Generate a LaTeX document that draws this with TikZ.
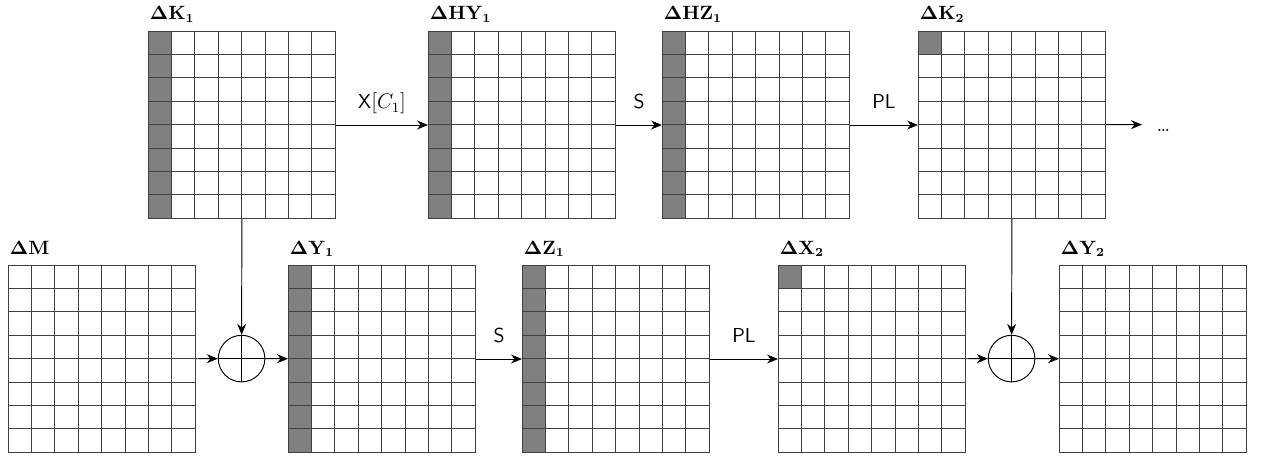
\documentclass[tikz,border=0pt]{standalone}
\usetikzlibrary{arrows.meta,calc}
\tikzset{
  gridbox/.style={draw=black!75, line width=0.5pt, minimum width=3.744cm, minimum height=3.744cm, inner sep=0pt, anchor=north west},
  gridline/.style={draw=black!75, line width=0.5pt},
  shadecell/.style={fill=black!50},
  gridlabel/.style={anchor=base west, inner sep=0pt, font=\fontsize{10.5}{12}\selectfont},
  arr/.style={-{Stealth[length=2.2mm,width=1.8mm]}, line width=0.55pt},
  oplabel/.style={midway, anchor=base, yshift=9.2pt, inner sep=0pt, font=\fontsize{11.5}{13}\selectfont\sffamily},
  xorcircle/.style={circle, draw, line width=0.55pt, minimum size=0.932cm, inner sep=0pt}
}
\newcommand\mygrid[4]{%
  \node[gridbox] (#1) at (#2,#3) {};
  \foreach \i in {1,...,7} {
    \draw[gridline] ($(#1.north west)+(\i*23.4,0)$) -- ($(#1.south west)+(\i*23.4,0)$);
    \draw[gridline] ($(#1.north west)+(0,\i*23.4)$) -- ($(#1.north east)+(0,\i*23.4)$);
  }
  \node[gridlabel] (#1-lab) at ($(#1.north west)+(1.5,-11)$) {#4};
}
\begin{document}
\begin{tikzpicture}[x=0.02cm,y=-0.02cm]
\useasboundingbox (0,0) rectangle (1264,456);
% corner coordinates of the grids
\coordinate (pK1) at (148,31);
\coordinate (pHY1) at (428,31);
\coordinate (pHZ1) at (662,31);
\coordinate (pK2) at (918,31);
\coordinate (pY1) at (288,265);
\coordinate (pZ1) at (522,265);
\coordinate (pX2) at (778,265);
% shaded cells (under the lines)
\fill[shadecell] (pK1) rectangle ($(pK1)+(23.4,187.2)$);
\fill[shadecell] (pHY1) rectangle ($(pHY1)+(23.4,187.2)$);
\fill[shadecell] (pHZ1) rectangle ($(pHZ1)+(23.4,187.2)$);
\fill[shadecell] (pK2) rectangle ($(pK2)+(23.4,23.4)$);
\fill[shadecell] (pY1) rectangle ($(pY1)+(23.4,187.2)$);
\fill[shadecell] (pZ1) rectangle ($(pZ1)+(23.4,187.2)$);
\fill[shadecell] (pX2) rectangle ($(pX2)+(23.4,23.4)$);
% grids
\mygrid{K1}{148}{31}{$\mathbf{\Delta K_1}$}
\mygrid{HY1}{428}{31}{$\mathbf{\Delta HY_1}$}
\mygrid{HZ1}{662}{31}{$\mathbf{\Delta HZ_1}$}
\mygrid{K2}{918}{31}{$\mathbf{\Delta K_2}$}
\mygrid{M}{8}{265}{$\mathbf{\Delta M}$}
\mygrid{Y1}{288}{265}{$\mathbf{\Delta Y_1}$}
\mygrid{Z1}{522}{265}{$\mathbf{\Delta Z_1}$}
\mygrid{X2}{778}{265}{$\mathbf{\Delta X_2}$}
\mygrid{Y2}{1059}{265}{$\mathbf{\Delta Y_2}$}
% xor circles
\node[xorcircle] (o1) at (241.6,358.6) {};
\draw[line width=0.55pt] (o1.north) -- (o1.south) (o1.west) -- (o1.east);
\node[xorcircle] (o2) at (1011.6,358.6) {};
\draw[line width=0.55pt] (o2.north) -- (o2.south) (o2.west) -- (o2.east);
% top row arrows
\draw[arr] (K1) -- node[oplabel] {X$[C_1]$} (HY1);
\draw[arr] (HY1) -- node[oplabel] {S} (HZ1);
\draw[arr] (HZ1) -- node[oplabel] {PL} (K2);
\coordinate (dend) at (1142,124.6);
\draw[arr] (K2) -- (dend);
\node[inner sep=0pt, anchor=base, font=\fontsize{12}{14}\selectfont] (dots) at (1163.5,132) {\ldots};
% bottom row arrows
\draw[arr] (K1) -- (o1);
\draw[arr] (M) -- (o1);
\draw[arr] (o1) -- (Y1);
\draw[arr] (Y1) -- node[oplabel] {S} (Z1);
\draw[arr] (Z1) -- node[oplabel] {PL} (X2);
\draw[arr] (X2) -- (o2);
\draw[arr] (K2) -- (o2);
\draw[arr] (o2) -- (Y2);
\end{tikzpicture}
\end{document}
